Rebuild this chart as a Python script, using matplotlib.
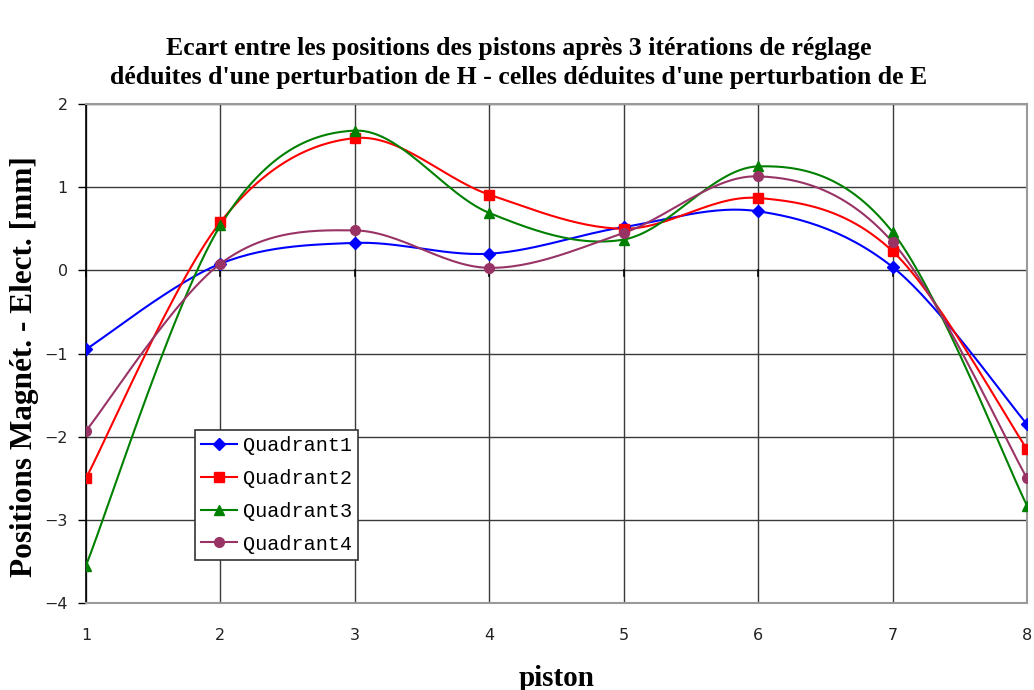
import numpy as np
import matplotlib
matplotlib.use("Agg")
import matplotlib.pyplot as plt

pistons = [1, 2, 3, 4, 5, 6, 7, 8]
q1 = [-0.95, 0.08, 0.33, 0.20, 0.52, 0.71, 0.04, -1.85]
q2 = [-2.50, 0.58, 1.59, 0.91, 0.50, 0.87, 0.23, -2.15]
q3 = [-3.55, 0.54, 1.68, 0.69, 0.37, 1.25, 0.46, -2.83]
q4 = [-1.93, 0.08, 0.48, 0.03, 0.45, 1.13, 0.34, -2.50]
series_names = ["Quadrant1", "Quadrant2", "Quadrant3", "Quadrant4"]
x_ticks = [1, 2, 3, 4, 5, 6, 7, 8]
y_ticks = [-4, -3, -2, -1, 0, 1, 2]

title = ("Ecart entre les positions des pistons après 3 itérations de réglage\n"
         "déduites d'une perturbation de H - celles déduites d'une perturbation de E")
xlabel = "piston"
ylabel = "Positions Magnét. - Elect. [mm]"


def smooth(x, y, n=30):
    """Excel-like smoothed line (Catmull-Rom Bezier) through the data points."""
    x = np.asarray(x, float)
    y = np.asarray(y, float)
    px = np.concatenate([[x[0]], x, [x[-1]]])
    py = np.concatenate([[y[0]], y, [y[-1]]])
    xs, ys = [], []
    t = np.linspace(0, 1, n)
    for i in range(1, len(px) - 2):
        p0 = np.array([px[i], py[i]])
        p3 = np.array([px[i + 1], py[i + 1]])
        p1 = p0 + (np.array([px[i + 1], py[i + 1]]) - np.array([px[i - 1], py[i - 1]])) / 6
        p2 = p3 - (np.array([px[i + 2], py[i + 2]]) - np.array([px[i], py[i]])) / 6
        b = ((1 - t) ** 3)[:, None] * p0 + (3 * (1 - t) ** 2 * t)[:, None] * p1 \
            + (3 * (1 - t) * t ** 2)[:, None] * p2 + (t ** 3)[:, None] * p3
        xs.extend(b[:, 0])
        ys.extend(b[:, 1])
    return np.array(xs), np.array(ys)


fig = plt.figure(figsize=(10.34, 6.9), dpi=100)
ax = fig.add_axes([86 / 1034, 1 - 603 / 690, (1027 - 86) / 1034, (603 - 104) / 690])

colors = ["#0000FF", "#FF0000", "#008000", "#993366"]
markers = ["D", "s", "^", "o"]
msizes = [6, 7, 7, 7]

for vals, name, c, m, ms in zip([q1, q2, q3, q4], series_names, colors, markers, msizes):
    sx, sy = smooth(pistons, vals)
    ax.plot(sx, sy, color=c, lw=1.5, zorder=3)
    ax.plot(pistons, vals, linestyle="none", marker=m, color=c, ms=ms, zorder=4)
    ax.plot([], [], color=c, lw=1.5, marker=m, ms=ms, label=name)

ax.set_xlim(1, 8)
ax.set_ylim(-4, 2)
ax.set_xticks(x_ticks)
ax.set_yticks(y_ticks)
ax.grid(True, color="#3a3a3a", lw=1.0, zorder=0)
ax.set_axisbelow(True)

for s in ["top", "right", "bottom"]:
    ax.spines[s].set_color("#9a9a9a")
    ax.spines[s].set_linewidth(1.5)
ax.spines["left"].set_color("black")
ax.spines["left"].set_linewidth(1.2)

ax.tick_params(axis="y", direction="out", length=6, width=1, colors="black",
               labelsize=11.5, pad=7)
ax.tick_params(axis="x", length=0, labelsize=11.5, pad=18)
for lbl in ax.get_xticklabels() + ax.get_yticklabels():
    lbl.set_fontfamily("DejaVu Sans")
    lbl.set_color("#222222")

# small tick marks on the category axis crossing at y = 0
for xv in x_ticks:
    ax.plot([xv, xv], [0, -0.07], color="black", lw=1.2, zorder=2, clip_on=False)

fig.text(519 / 1034, 1 - 63 / 690, title, ha="center", va="center",
         fontsize=18.5, fontweight="bold", family="Liberation Serif", linespacing=1.3)
fig.text(557 / 1034, 1 - 678 / 690, xlabel, ha="center", va="center",
         fontsize=21, fontweight="bold", family="Liberation Serif")
fig.text(25 / 1034, 1 - 367 / 690, ylabel, ha="center", va="center", rotation=90,
         fontsize=22.5, fontweight="bold", family="Liberation Serif")

leg = ax.legend(loc="upper left", bbox_to_anchor=((195 - 86) / 941, (603 - 430) / 499),
                prop={"family": "Liberation Mono", "size": 14.5}, frameon=True,
                fancybox=False, edgecolor="#333333", framealpha=1,
                handlelength=1.75, handletextpad=0.3, labelspacing=0.68,
                borderpad=0.32, borderaxespad=0)
leg.get_frame().set_linewidth(1.2)

fig.savefig("out.png", dpi=100)
